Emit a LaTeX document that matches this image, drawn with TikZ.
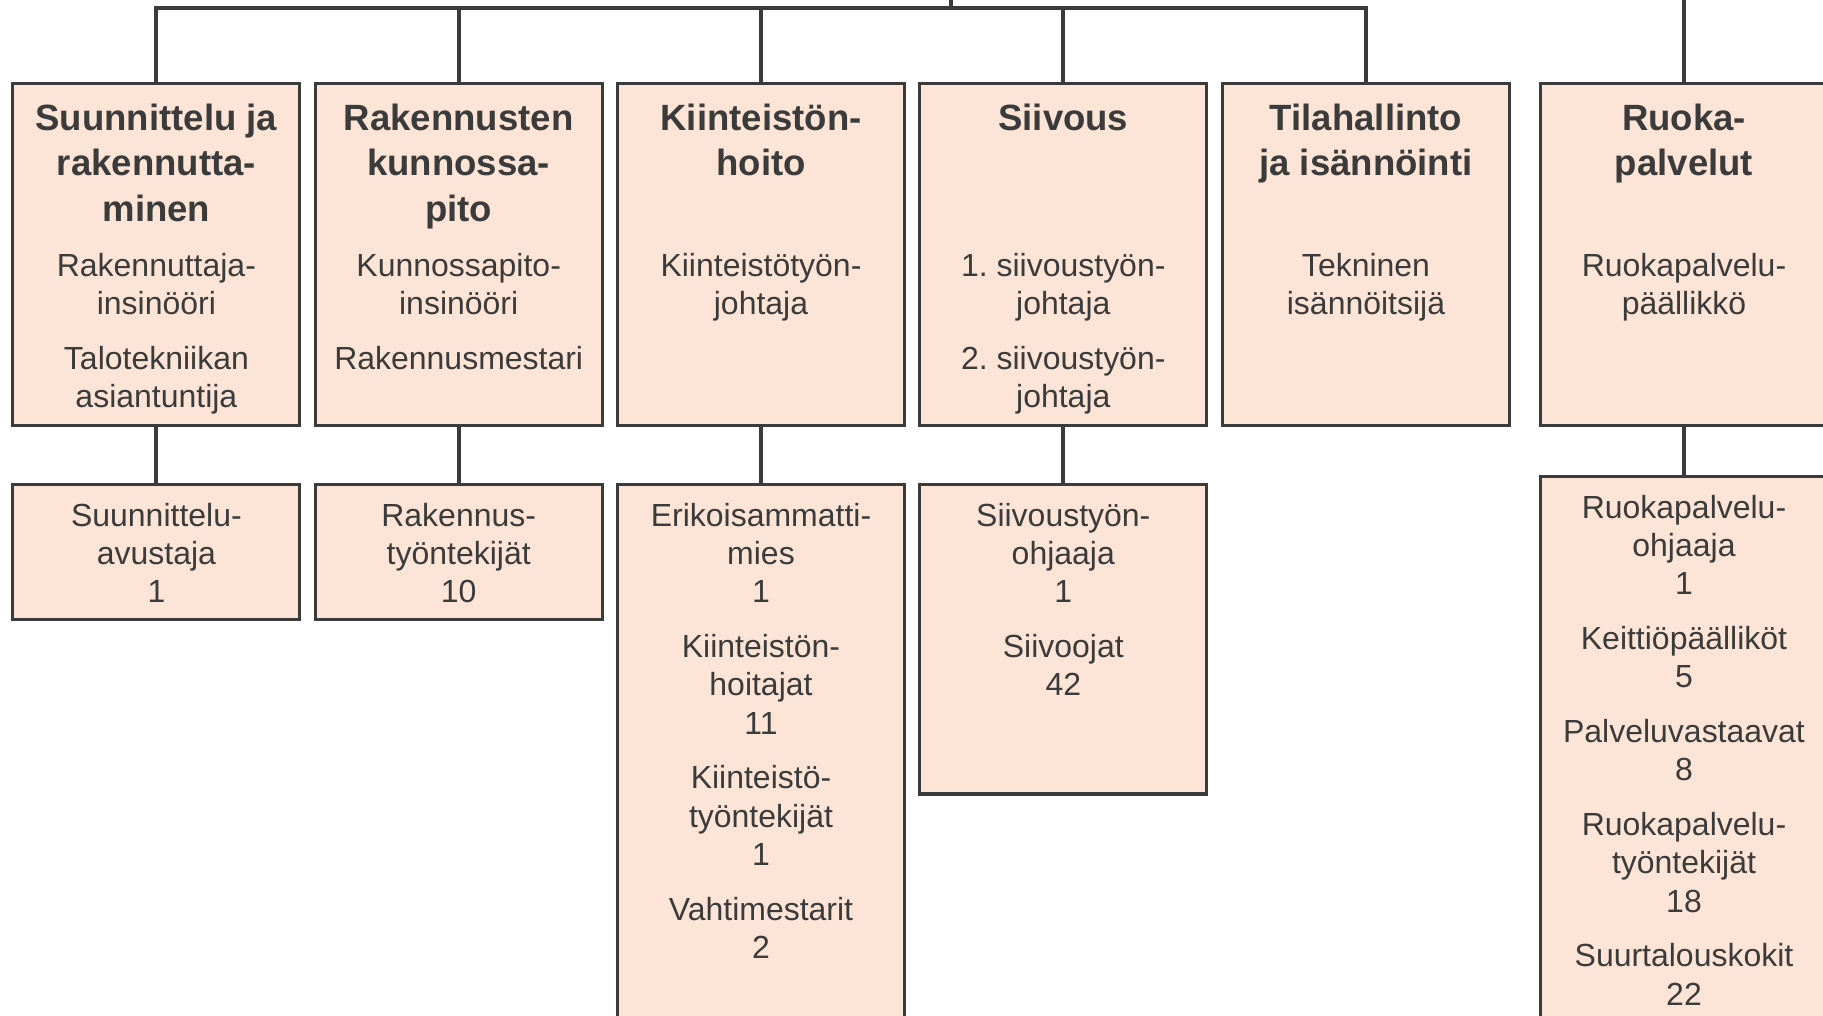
\documentclass[tikz,border=0pt]{standalone}
\usepackage{fontspec}
\setmainfont{Liberation Sans}
\frenchspacing
\definecolor{boxfill}{RGB}{252,228,214}
\definecolor{boxline}{RGB}{59,59,59}
\tikzset{
  box/.style={draw=boxline, fill=boxfill, line width=0.9pt, minimum width=2.87cm, inner sep=0pt, outer sep=0pt},
  title/.style={font=\fontsize{10.4}{12.9}\selectfont\bfseries, text=boxline, align=center, anchor=north, inner sep=0pt},
  job/.style={font=\fontsize{9.1}{10.93}\selectfont, text=boxline, align=center, anchor=north, inner sep=0pt},
  conn/.style={draw=boxline, line width=1.1pt}
}
\newcommand{\gap}{\\[4.6pt]}
\begin{document}
\begin{tikzpicture}
    \useasboundingbox (0,0) rectangle (18.23,-10.15);

    % yksikot
    \node[box, minimum height=3.418cm] (suun) at (1.564,-2.546){};
    \node[box, minimum height=3.418cm] (kunn) at (4.587,-2.546){};
    \node[box, minimum height=3.418cm] (kiint) at (7.61,-2.546){};
    \node[box, minimum height=3.418cm] (siiv) at (10.633,-2.546){};
    \node[box, minimum height=3.418cm] (tila) at (13.66,-2.546){};
    \node[box, minimum height=3.418cm] (ruoka) at (16.84,-2.546){};

    \node[title] (suunT) at ([yshift=-0.195cm]suun.north){Suunnittelu ja\\rakennutta-\\minen};
    \node[title] (kunnT) at ([yshift=-0.195cm]kunn.north){Rakennusten\\kunnossa-\\pito};
    \node[title] (kiintT) at ([yshift=-0.195cm]kiint.north){Kiinteistön-\\hoito};
    \node[title] (siivT) at ([yshift=-0.195cm]siiv.north){Siivous};
    \node[title] (tilaT) at ([yshift=-0.195cm]tila.north){Tilahallinto\\ja isännöinti};
    \node[title] (ruokaT) at ([yshift=-0.195cm]ruoka.north){Ruoka-\\palvelut};

    \node[job] (suunJ) at ([yshift=-1.686cm]suun.north){Rakennuttaja-\\insinööri\gap Talotekniikan\\asiantuntija};
    \node[job] (kunnJ) at ([yshift=-1.686cm]kunn.north){Kunnossapito-\\insinööri\gap Rakennusmestari};
    \node[job] (kiintJ) at ([yshift=-1.686cm]kiint.north){Kiinteistötyön-\\johtaja};
    \node[job] (siivJ) at ([yshift=-1.686cm]siiv.north){1. siivoustyön-\\johtaja\gap 2. siivoustyön-\\johtaja};
    \node[job] (tilaJ) at ([yshift=-1.686cm]tila.north){Tekninen\\isännöitsijä};
    \node[job] (ruokaJ) at ([yshift=-1.686cm]ruoka.north){Ruokapalvelu-\\päällikkö};

    % henkilosto
    \node[box, minimum height=1.349cm] (suun2) at (1.564,-5.5225){};
    \node[box, minimum height=1.349cm] (kunn2) at (4.587,-5.5225){};
    \node[box, minimum height=5.652cm] (kiint2) at (7.61,-7.674){};
    \node[box, minimum height=3.092cm] (siiv2) at (10.633,-6.394){};
    \node[box, minimum height=5.733cm] (ruoka2) at (16.84,-7.6335){};

    \node[job] (suun2J) at ([yshift=-0.174cm]suun2.north){Suunnittelu-\\avustaja\\1};
    \node[job] (kunn2J) at ([yshift=-0.174cm]kunn2.north){Rakennus-\\työntekijät\\10};
    \node[job] (kiint2J) at ([yshift=-0.174cm]kiint2.north){Erikoisammatti-\\mies\\1\gap Kiinteistön-\\hoitajat\\11\gap Kiinteistö-\\työntekijät\\1\gap Vahtimestarit\\2};
    \node[job] (siiv2J) at ([yshift=-0.174cm]siiv2.north){Siivoustyön-\\ohjaaja\\1\gap Siivoojat\\42};
    \node[job] (ruoka2J) at ([yshift=-0.174cm]ruoka2.north){Ruokapalvelu-\\ohjaaja\\1\gap Keittiöpäälliköt\\5\gap Palveluvastaavat\\8\gap Ruokapalvelu-\\työntekijät\\18\gap Suurtalouskokit\\22};

    \coordinate (hub) at (9.51,-0.08);
    \coordinate (hubup) at (9.51,0.2);
    \coordinate (ruokaup) at (16.84,0.2);

    \draw[conn] (suun.north) |- (hub) -| (tila.north);
    \draw[conn] (hub) -- (hubup);
    \draw[conn] (kunn.north) -- (kunn.north |- hub);
    \draw[conn] (kiint.north) -- (kiint.north |- hub);
    \draw[conn] (siiv.north) -- (siiv.north |- hub);
    \draw[conn] (ruokaup) -- (ruoka.north);

    \draw[conn] (suun) -- (suun2);
    \draw[conn] (kunn) -- (kunn2);
    \draw[conn] (kiint) -- (kiint2);
    \draw[conn] (siiv) -- (siiv2);
    \draw[conn] (ruoka) -- (ruoka2);
\end{tikzpicture}
\end{document}
